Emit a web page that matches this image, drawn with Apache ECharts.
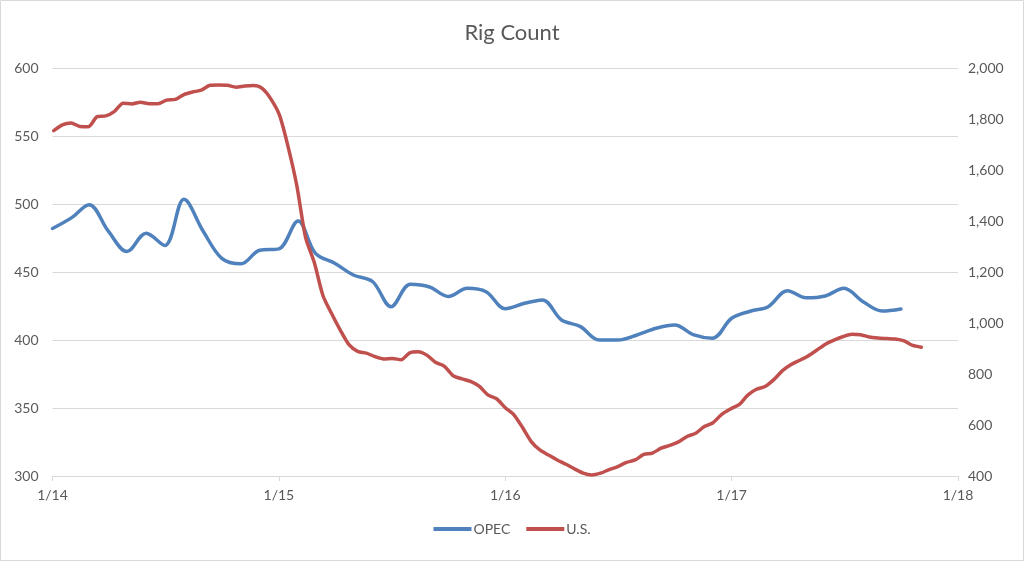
<!DOCTYPE html>
<html>
<head>
<meta charset="utf-8">
<script src="https://cdn.jsdelivr.net/npm/echarts@6/dist/echarts.min.js"></script>
<style>
html,body{margin:0;padding:0;background:#fff;}
#chart{width:1024px;height:561px;}
</style>
</head>
<body>
<div id="chart"></div>
<script>
// ---- data ----
const titleText = 'Rig Count';
const seriesNames = ['OPEC', 'U.S.'];
const xTickLabels = ['1/14', '1/15', '1/16', '1/17', '1/18'];

// OPEC rig count, monthly, first month 2014-01
const opecStartMonth = '2014-01';
const opecValues = [
  482, 490, 499.5, 480, 465, 478.5, 469.5, 503.5, 480, 460, 456, 466,
  467, 487.5, 463.7, 456.4, 447.8, 443, 424.5, 441, 439, 432, 438, 435.5,
  423, 427, 429.5, 414.7, 410, 400, 400, 403.7, 408.6, 411, 403.7, 401.3,
  416, 421.3, 424.5, 436.3, 431, 432.4, 438, 428.2, 421.3, 422.8
];

// U.S. rig count, every second Friday starting 2014-01-03
const usStartDate = '2014-01-03';
const usStepDays = 14;
const usValues = [
  1754, 1777, 1784, 1771, 1770, 1809, 1812, 1830, 1862, 1859,
  1866, 1860, 1860, 1874, 1877, 1896, 1906, 1913, 1932, 1933,
  1932, 1925, 1929, 1931, 1920, 1879, 1815, 1690, 1538, 1336,
  1238, 1108, 1037, 972, 915, 889, 882, 868, 859, 861,
  856, 883, 887, 873, 845, 830, 793, 781, 771, 752,
  718, 703, 668, 640, 590, 535, 502, 482, 463, 446,
  428, 411, 404, 411, 425, 437, 453, 463, 485, 490,
  509, 520, 534, 555, 568, 594, 609, 642, 663, 680,
  717, 740, 751, 778, 813, 837, 854, 872, 895, 918,
  934, 947, 956, 954, 945, 941, 939, 937, 930, 912,
  905
];

// ---- helpers ----
function toYear(y, m, d) {
  const start = Date.UTC(y, 0, 1), end = Date.UTC(y + 1, 0, 1);
  return y + (Date.UTC(y, m - 1, d) - start) / (end - start);
}
const [oy, om] = opecStartMonth.split('-').map(Number);
const opecData = opecValues.map((v, i) => {
  const mm = om - 1 + i;
  return [toYear(oy + Math.floor(mm / 12), (mm % 12) + 1, 1), v];
});
const [uy, um, ud] = usStartDate.split('-').map(Number);
const usData = usValues.map((v, k) => {
  const dt = new Date(Date.UTC(uy, um - 1, ud) + k * usStepDays * 86400000);
  return [toYear(dt.getUTCFullYear(), dt.getUTCMonth() + 1, dt.getUTCDate()), v];
});

const FONT = 'Lato, "Open Sans", sans-serif';
const TXT = '#595959';
const GRID = '#d9d9d9';

const chart = echarts.init(document.getElementById('chart'), null, {renderer: 'canvas'});
chart.setOption({
  animation: false,
  backgroundColor: '#ffffff',
  textStyle: {fontFamily: FONT},
  title: {
    text: titleText, left: 'center', top: 17,
    textStyle: {fontFamily: FONT, fontSize: 22, fontWeight: 'normal', color: TXT}
  },
  graphic: [{
    type: 'rect', silent: true,
    shape: {x: 0.5, y: 0.5, width: 1023, height: 560},
    style: {fill: 'none', stroke: GRID, lineWidth: 1}
  }],
  legend: {
    data: seriesNames, bottom: 20, left: 'center',
    icon: 'rect', itemWidth: 38, itemHeight: 4, itemGap: 16,
    textStyle: {fontFamily: FONT, fontSize: 14, color: TXT, padding: [0, 0, 0, -3]}
  },
  grid: {left: 52.5, right: 66, top: 68, bottom: 85, containLabel: false},
  xAxis: {
    type: 'value', min: 2014, max: 2018, interval: 1,
    axisLine: {show: true, lineStyle: {color: GRID}},
    axisTick: {show: true, length: 5, lineStyle: {color: GRID}},
    splitLine: {show: false},
    axisLabel: {
      margin: 12, fontFamily: FONT, fontSize: 14, color: TXT,
      formatter: v => xTickLabels[Math.round(v - 2014)] || ''
    }
  },
  yAxis: [{
    type: 'value', min: 300, max: 600, interval: 50, position: 'left',
    axisLine: {show: false}, axisTick: {show: false},
    splitLine: {show: true, lineStyle: {color: GRID, width: 1}},
    axisLabel: {margin: 14, fontFamily: FONT, fontSize: 14, color: TXT}
  }, {
    type: 'value', min: 400, max: 2000, interval: 200, position: 'right',
    axisLine: {show: false}, axisTick: {show: false},
    splitLine: {show: false},
    axisLabel: {
      margin: 10, fontFamily: FONT, fontSize: 14, color: TXT,
      formatter: v => v.toLocaleString('en-US')
    }
  }],
  series: [{
    name: seriesNames[0], type: 'line', yAxisIndex: 0,
    data: opecData, showSymbol: false, symbol: 'none', smooth: 0.35,
    lineStyle: {color: '#4F81BD', width: 3.5, cap: 'round'},
    itemStyle: {color: '#4F81BD'}
  }, {
    name: seriesNames[1], type: 'line', yAxisIndex: 1,
    data: usData, showSymbol: false, symbol: 'none', smooth: 0.25,
    lineStyle: {color: '#C0504D', width: 3.5, cap: 'round'},
    itemStyle: {color: '#C0504D'}
  }]
});
</script>
</body>
</html>
